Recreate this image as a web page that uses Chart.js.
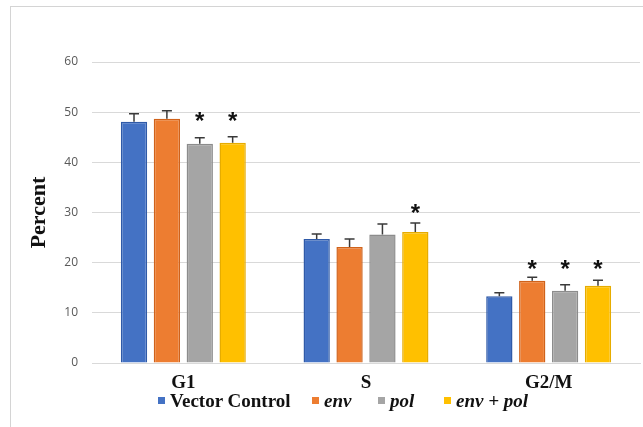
<!DOCTYPE html>
<html>
<head>
<meta charset="utf-8">
<script src="https://cdn.jsdelivr.net/npm/chart.js@4"></script>
<style>
  html, body { margin: 0; padding: 0; background: #fff; }
  #wrap { position: relative; width: 643px; height: 427px; overflow: hidden; }
  #frame { position: absolute; left: 10px; top: 6px; width: 700px; height: 500px;
           border-left: 1px solid #d4d4d4; border-top: 1px solid #d4d4d4; }
  canvas { position: absolute; left: 0; top: 0; }
  #legend { position: absolute; top: 390px; left: 158px; font-family: 'Liberation Serif', serif;
            font-weight: bold; font-size: 19px; color: #111; white-space: nowrap; }
  #legend span.item { position: absolute; top: 0; }
  #legend i.box { display: inline-block; width: 7px; height: 7px; margin-right: 5px; vertical-align: 3px; }
  #legend em { font-style: italic; }
</style>
</head>
<body>
<div id="wrap">
  <div id="frame"></div>
  <canvas id="chart" width="643" height="427"></canvas>
  <div id="legend"></div>
</div>
<script>
// Data
const phases = ['G1', 'S', 'G2/M'];
const seriesNames = ['Vector Control', 'env', 'pol', 'env + pol'];
const italicNames = [false, true, true, true];
const vectorControl = [48.1, 24.7, 13.3];
const envValues = [48.7, 23.1, 16.4];
const polValues = [43.7, 25.6, 14.4];
const envPolValues = [43.9, 26.1, 15.4];
// upper end of error bars
const vectorControlErr = [49.7, 25.7, 14.0];
const envErr = [50.3, 24.7, 17.1];
const polErr = [44.9, 27.7, 15.6];
const envPolErr = [45.1, 27.9, 16.5];
// asterisk heights (null = not significant)
const vectorControlStar = [null, null, null];
const envStar = [null, null, 19.7];
const polStar = [49.3, null, 19.7];
const envPolStar = [49.3, 30.8, 19.7];
const yTicks = [0, 10, 20, 30, 40, 50, 60];

const fills = ['#4472C4', '#ED7D31', '#A5A5A5', '#FFC000'];
const edges = ['#2F5AA8', '#D0621A', '#8C8C8C', '#E6AC00'];

const values = [vectorControl, envValues, polValues, envPolValues];
const errors = [vectorControlErr, envErr, polErr, envPolErr];
const stars = [vectorControlStar, envStar, polStar, envPolStar];

// Error bars and asterisks
const annotatePlugin = {
    id: 'annotate',
    afterDatasetsDraw(chart) {
        const ctx = chart.ctx;
        const y = chart.scales.y;
        chart.data.datasets.forEach((ds, i) => {
            const meta = chart.getDatasetMeta(i);
            meta.data.forEach((bar, j) => {
                const top = y.getPixelForValue(values[i][j]);
                const err = y.getPixelForValue(errors[i][j]);
                ctx.save();
                ctx.strokeStyle = '#3a3a3a';
                ctx.lineWidth = 1.5;
                ctx.beginPath();
                ctx.moveTo(bar.x, top);
                ctx.lineTo(bar.x, err);
                ctx.moveTo(bar.x - 5, err);
                ctx.lineTo(bar.x + 5, err);
                ctx.stroke();
                if (stars[i][j] !== null) {
                    const sy = y.getPixelForValue(stars[i][j]);
                    ctx.fillStyle = '#111';
                    ctx.font = 'bold 24px "Liberation Sans", sans-serif';
                    ctx.textAlign = 'center';
                    ctx.textBaseline = 'alphabetic';
                    ctx.fillText('*', bar.x, sy + 13);
                }
                ctx.restore();
            });
        });
    }
};

const ctx = document.getElementById('chart').getContext('2d');
const chart = new Chart(ctx, {
    type: 'bar',
    data: {
        labels: phases,
        datasets: seriesNames.map((name, i) => ({
            label: name,
            data: values[i],
            backgroundColor: fills[i],
            borderColor: edges[i],
            borderWidth: 1.5,
            categoryPercentage: 0.72,
            barPercentage: 0.8
        }))
    },
    options: {
        responsive: false,
        animation: false,
        layout: { padding: { left: 22, right: 3, top: 62, bottom: 34 } },
        plugins: { legend: { display: false }, tooltip: { enabled: false } },
        scales: {
            x: {
                grid: { display: false },
                border: { display: true, color: '#d9d9d9', width: 1 },
                ticks: {
                    color: '#111',
                    font: { family: "'Liberation Serif', serif", size: 19, weight: 'bold' },
                    padding: 1
                },
                afterFit(scale) { scale.height = 30; }
            },
            y: {
                min: 0,
                max: 60,
                afterBuildTicks(scale) { scale.ticks = yTicks.map(v => ({ value: v })); },
                grid: { color: '#d9d9d9', drawTicks: false },
                border: { display: false },
                ticks: {
                    color: '#595959',
                    font: { family: "'Open Sans', sans-serif", size: 12 },
                    padding: 14
                },
                title: {
                    display: true,
                    text: 'Percent',
                    color: '#111',
                    font: { family: "'Liberation Serif', serif", size: 22, weight: 'bold' },
                    padding: { top: 4, bottom: 0 }
                },
                afterFit(scale) { scale.width = 70; }
            }
        }
    },
    plugins: [annotatePlugin]
});

// Legend with italic gene names
const legend = document.getElementById('legend');
const legendX = [0, 154, 220, 286];
seriesNames.forEach((name, i) => {
    const item = document.createElement('span');
    item.className = 'item';
    item.style.left = legendX[i] + 'px';
    const box = document.createElement('i');
    box.className = 'box';
    box.style.background = fills[i];
    item.appendChild(box);
    const label = document.createElement(italicNames[i] ? 'em' : 'span');
    label.textContent = name;
    item.appendChild(label);
    legend.appendChild(item);
});
</script>
</body>
</html>
